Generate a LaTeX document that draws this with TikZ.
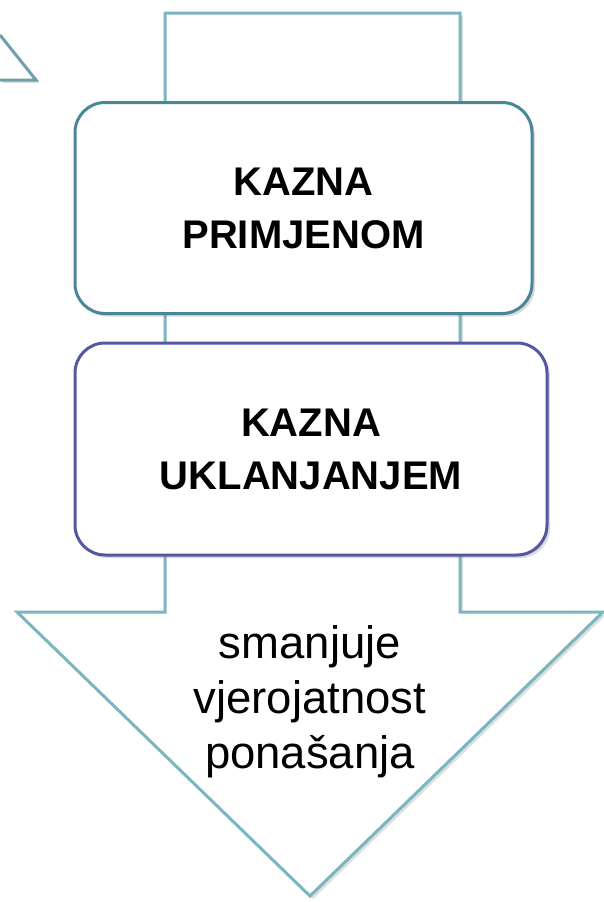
\documentclass[tikz,border=0pt]{standalone}
\usepackage{fontspec}
\setmainfont{Liberation Sans}
\usepackage{xcolor}
\usepackage{tikz}
\usetikzlibrary{shadows}
\definecolor{boxteal}{HTML}{4A8796}
\definecolor{boxblue}{HTML}{5458A0}
\definecolor{arrowteal}{HTML}{7AB6BF}
\tikzstyle{kazna} = [rectangle, rounded corners = 30pt, inner sep = 0pt, line width = 3pt, align = center, fill = white, font = \fontsize{40}{53}\selectfont\bfseries, drop shadow = {shadow xshift = 3pt, shadow yshift = -3pt, opacity = 0.3}]
\tikzstyle{outline} = [draw = arrowteal, line width = 3pt, fill = white, line join = miter, drop shadow = {shadow xshift = 3pt, shadow yshift = -3pt, opacity = 0.25}]

\begin{document}
\begin{tikzpicture}[x = 1pt, y = -1pt]
	\useasboundingbox (0,0) rectangle (604,902);
	% corner of the shape cut off top left
	\draw [outline, draw = boxteal!80] (0,35) -- (36,80) -- (0,80);
	
	% big down arrow behind the boxes
	\draw [outline] (165,13) -- (460,13) -- (460,612) -- (603,612) -- (310,896) -- (17,612) -- (165,612) -- cycle;
	\node (effect) [align = center, inner sep = 0pt, font = \fontsize{45.5}{55}\selectfont] at (310,702) {smanjuje\\vjerojatnost\\ponašanja};
	
	\node (positive)[kazna, draw = boxteal, minimum width = 457pt, minimum height = 211pt] at (303.5,208) {KAZNA\\PRIMJENOM};
	\node (negative)[kazna, draw = boxblue, minimum width = 472pt, minimum height = 212pt] at (311,449) {KAZNA\\UKLANJANJEM};
\end{tikzpicture}
\end{document}
